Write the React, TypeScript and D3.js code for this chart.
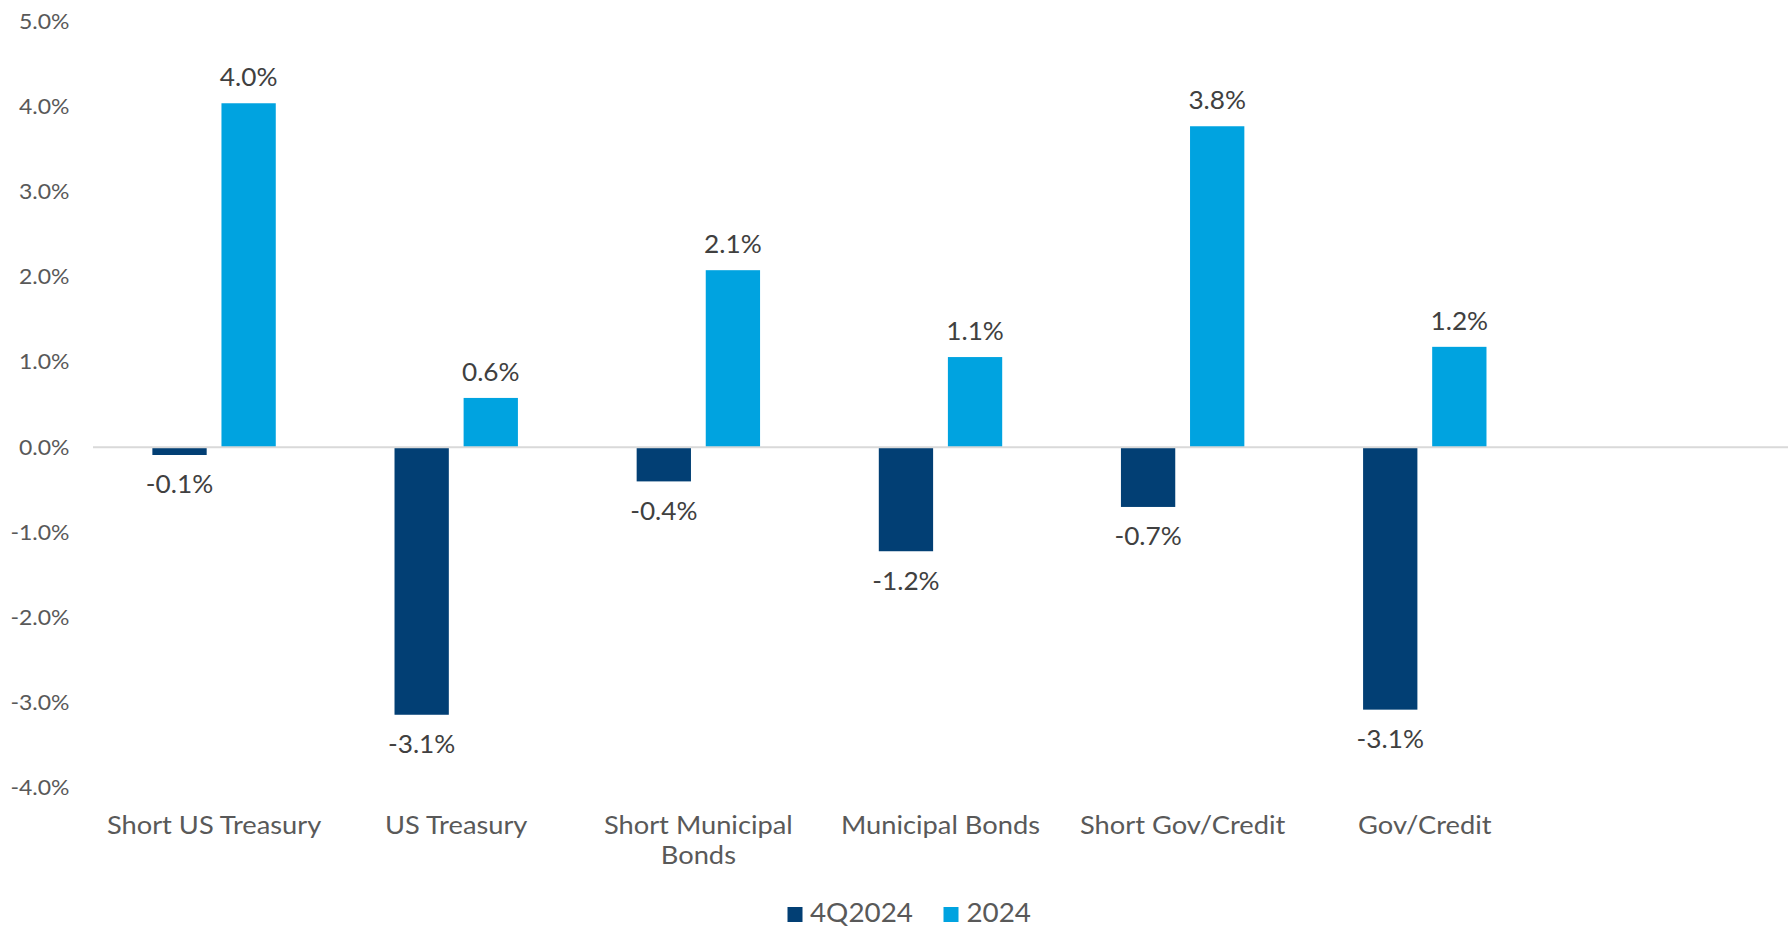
import React from "react";
import * as d3 from "d3";

const categories = [
  "Short US Treasury",
  "US Treasury",
  "Short Municipal Bonds",
  "Municipal Bonds",
  "Short Gov/Credit",
  "Gov/Credit",
  "",
];
const seriesNames = ["4Q2024", "2024"];
const q4Values = [-0.09, -3.14, -0.4, -1.22, -0.7, -3.08];
const yearValues = [4.04, 0.58, 2.08, 1.06, 3.77, 1.18];
const yTicks = [5, 4, 3, 2, 1, 0, -1, -2, -3, -4];
const colors = ["#023F74", "#00A3E0"];

const W = 1790;
const H = 926;
const FONT = "Lato, 'Open Sans', sans-serif";
const SX = 1.07;

function T(props: {
  x: number;
  y: number;
  anchor?: string;
  size: number;
  fill: string;
  children: React.ReactNode;
}) {
  const { x, y, anchor = "middle", size, fill, children } = props;
  return (
    <text
      transform={`translate(${x},${y}) scale(${SX},1)`}
      textAnchor={anchor}
      fontSize={size}
      fontFamily={FONT}
      fill={fill}
    >
      {children}
    </text>
  );
}

function wrap(label: string, size: number, maxW: number): string[] {
  const canvas = document.createElement("canvas");
  const ctx = canvas.getContext("2d")!;
  ctx.font = `${size}px Lato`;
  const words = label.split(" ");
  const lines: string[] = [];
  let cur = "";
  for (const w of words) {
    const test = cur ? cur + " " + w : w;
    if (ctx.measureText(test).width * SX > maxW && cur) {
      lines.push(cur);
      cur = w;
    } else cur = test;
  }
  if (cur) lines.push(cur);
  return lines;
}

export default function App() {
  const x = d3.scaleBand<string>().domain(categories.map((_, i) => String(i))).range([93, 1788]);
  const inner = d3
    .scaleBand<string>()
    .domain(seriesNames)
    .range([-61.7, 61.7])
    .paddingInner(0.214);
  const y = d3.scaleLinear().domain([-4, 5]).range([788, 21.5]);
  const series = [q4Values, yearValues];

  return (
    <svg
      width={W}
      height={H}
      style={{ position: "absolute", left: 0, top: 0, background: "#fff" }}
    >
      {yTicks.map((t) => (
        <T key={t} x={69.5} y={y(t) + 7.3} anchor="end" size={21.5} fill="#595959">
          {t.toFixed(1) + "%"}
        </T>
      ))}
      {series.map((vals, si) =>
        vals.map((v, ci) => {
          const cx = x(String(ci))! + x.bandwidth() / 2;
          const bx = cx + inner(seriesNames[si])!;
          const y0 = y(0);
          const y1 = y(v);
          return (
            <rect
              key={`${si}-${ci}`}
              x={bx}
              y={Math.min(y0, y1)}
              width={inner.bandwidth()}
              height={Math.abs(y1 - y0)}
              fill={colors[si]}
            />
          );
        })
      )}
      <line x1={93} x2={1788} y1={y(0)} y2={y(0)} stroke="#D9D9D9" strokeWidth={2} />
      {series.map((vals, si) =>
        vals.map((v, ci) => {
          const cx = x(String(ci))! + x.bandwidth() / 2;
          const lx = cx + inner(seriesNames[si])! + inner.bandwidth() / 2;
          const ly = v >= 0 ? y(v) - 17 : y(v) + 38.5;
          return (
            <T key={`l${si}-${ci}`} x={lx} y={ly} size={24.5} fill="#404040">
              {v.toFixed(1) + "%"}
            </T>
          );
        })
      )}
      {categories.map((c, ci) => {
        if (!c) return null;
        const cx = x(String(ci))! + x.bandwidth() / 2;
        const lines = wrap(c, 25.5, 232);
        return (
          <g key={c}>
            {lines.map((ln, li) => (
              <T key={li} x={cx} y={834 + li * 30} size={25.5} fill="#595959">
                {ln}
              </T>
            ))}
          </g>
        );
      })}
      <g>
        <rect x={787.5} y={907} width={15} height={15} fill={colors[0]} />
        <T x={810} y={921.5} anchor="start" size={26} fill="#595959">
          {seriesNames[0]}
        </T>
        <rect x={943.5} y={907} width={15} height={15} fill={colors[1]} />
        <T x={966.5} y={921.5} anchor="start" size={26} fill="#595959">
          {seriesNames[1]}
        </T>
      </g>
    </svg>
  );
}
